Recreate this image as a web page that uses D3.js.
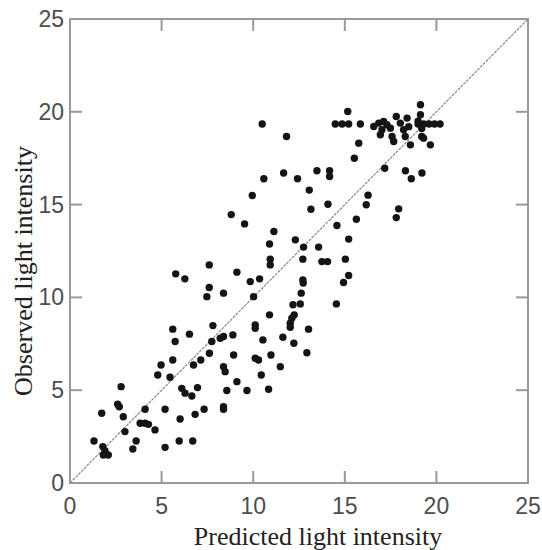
<!DOCTYPE html>
<html lang="en">
<head>
  <meta charset="UTF-8">
  <title>Observed vs predicted light intensity</title>
  <script src="https://d3js.org/d3.v7.min.js"></script>
  <style>
    body {
      margin: 0;
      background: #fff;
    }
    svg {
      display: block;
    }
    .tick-label {
      font-family: "Liberation Sans", Arial, sans-serif;
      font-size: 23px;
      fill: #4d4d4d;
    }
    .axis-title {
      font-family: "Liberation Serif", "DejaVu Serif", serif;
      font-size: 26px;
      fill: #222;
    }
  </style>
</head>
<body>
  <svg id="chart" width="542" height="550"></svg>

  <script>
    // Predicted (x) and observed (y) light intensity
    const predicted = [
      1.31, 1.79, 1.91, 1.82, 2.09, 1.73, 2.6, 2.69, 2.79, 2.91, 3.0, 3.43, 3.61, 3.83, 4.10, 4.28, 4.10, 4.64, 4.79, 4.97,
      5.19, 5.19, 5.46, 5.61, 5.61, 5.74, 5.77, 5.96, 6.01, 6.10, 6.28, 6.27, 6.52, 6.65, 6.70, 6.74, 6.83, 6.96, 7.14, 7.32,
      7.47, 7.60, 7.60, 7.61, 7.74, 7.80,
      8.20, 8.38, 8.38, 8.38, 8.47, 8.38, 8.38, 8.56, 8.80, 8.89, 8.93, 9.11, 9.11, 9.53, 9.66, 9.84, 9.95, 10.02, 10.11, 10.11,
      10.11, 10.29, 10.35, 10.44, 10.49, 10.53, 10.58, 10.84, 10.89, 10.93, 10.93, 10.89, 10.97,
      11.13, 11.48, 11.62, 11.66, 11.82, 12.02, 12.02, 12.11, 12.17, 12.24, 12.22, 12.30, 12.42, 12.57, 12.62, 12.71, 12.73,
      12.71, 12.75, 12.93, 13.02,
      13.06, 13.15, 13.48, 13.57, 13.75, 14.06, 14.08, 14.17, 14.17, 14.48, 14.54, 14.57, 14.85, 14.93, 15.03, 15.16, 15.21,
      15.21, 15.21, 15.52, 15.63, 15.76, 15.85,
      16.17, 16.27, 16.58, 16.85, 17.12, 17.30, 17.03, 16.94, 17.49, 17.58, 17.18, 17.67, 17.81, 17.81, 17.94, 18.03,
      18.21, 18.30, 18.31, 18.40, 18.49, 18.58, 18.63, 19.13, 19.13, 19.21, 19.20, 19.30, 19.67, 19.00, 19.30, 19.60, 19.90,
      20.20, 19.20, 19.00
    ];
    const observed = [
      2.26, 1.96, 1.74, 1.51, 1.51, 3.76, 4.24, 4.11, 5.19, 3.57, 2.77, 1.83, 2.26, 3.22, 3.22, 3.16, 3.97, 2.86, 5.82, 6.36,
      3.97, 1.92, 5.70, 6.63, 8.29, 7.62, 11.27, 2.26, 3.45, 5.10, 4.84, 11.0, 8.02, 4.69, 2.26, 6.36, 3.70, 5.14, 6.63, 3.97,
      10.04, 10.53, 11.75, 6.99, 7.62, 8.48,
      7.80, 7.89, 10.23, 6.27, 6.0, 4.11, 3.97, 4.98, 14.46, 7.98, 6.90, 11.36, 5.46, 13.96, 4.98, 10.85, 15.49, 10.04, 8.52, 8.34,
      6.72, 6.63, 11.0, 5.82, 19.34, 7.71, 16.39, 5.05, 12.88, 12.06, 11.75, 9.06, 6.90,
      13.55, 6.27, 7.85, 16.70, 18.67, 8.39, 8.61, 8.88, 9.60, 9.06, 7.53, 13.10, 16.39, 9.65, 10.23, 10.94, 10.77,
      12.06, 12.71, 7.02, 8.29,
      15.78, 14.75, 16.82, 12.71, 11.93, 11.93, 15.02, 16.82, 16.51, 19.34, 9.65, 13.87, 19.34, 10.80, 12.06, 20.02, 19.34,
      13.14, 11.18, 17.5, 14.21, 18.31, 19.34,
      14.99, 15.51, 19.21, 19.39, 19.48, 19.30, 19.03, 18.76, 19.12, 18.67, 16.96, 18.40, 19.75, 14.30, 14.77, 19.39,
      19.03, 18.67, 16.82, 19.66, 19.20, 18.22, 16.39, 20.38, 19.84, 16.70, 18.67, 18.58, 18.22, 19.34, 19.34, 19.34, 19.34,
      19.34, 19.10, 19.50
    ];

    const tickValues = [0, 5, 10, 15, 20, 25];
    const innerTicks = [5, 10, 15, 20];

    const svg = d3.select("#chart");

    const x = d3.scaleLinear().domain([0, 25]).range([70, 528]);
    const y = d3.scaleLinear().domain([0, 25]).range([483, 19]);

    const points = predicted.map((p, i) => ({ p: p, o: observed[i] }));

    // 1:1 line
    svg.append("line")
      .attr("x1", x(0))
      .attr("y1", y(0))
      .attr("x2", x(25))
      .attr("y2", y(25))
      .attr("stroke", "#8a8a8a")
      .attr("stroke-width", 1.2)
      .attr("stroke-dasharray", "3,1");

    // Points
    svg.append("g")
      .selectAll("circle")
      .data(points)
      .enter().append("circle")
      .attr("cx", d => x(d.p))
      .attr("cy", d => y(d.o))
      .attr("r", 3.7)
      .attr("fill", "#141414");

    // Frame
    svg.append("rect")
      .attr("x", x(0))
      .attr("y", y(25))
      .attr("width", x(25) - x(0))
      .attr("height", y(0) - y(25))
      .attr("fill", "none")
      .attr("stroke", "#999")
      .attr("stroke-width", 2);

    // Inward ticks on all four sides
    const tickLen = 12;
    const tickG = svg.append("g").attr("stroke", "#999").attr("stroke-width", 2);
    innerTicks.forEach(v => {
      tickG.append("line").attr("x1", x(v)).attr("x2", x(v)).attr("y1", y(0)).attr("y2", y(0) - tickLen);
      tickG.append("line").attr("x1", x(v)).attr("x2", x(v)).attr("y1", y(25)).attr("y2", y(25) + tickLen);
      tickG.append("line").attr("y1", y(v)).attr("y2", y(v)).attr("x1", x(0)).attr("x2", x(0) + tickLen);
      tickG.append("line").attr("y1", y(v)).attr("y2", y(v)).attr("x1", x(25)).attr("x2", x(25) - tickLen);
    });

    // Tick labels
    svg.append("g")
      .selectAll("text")
      .data(tickValues)
      .enter().append("text")
      .attr("class", "tick-label")
      .attr("x", d => x(d))
      .attr("y", 514)
      .attr("text-anchor", "middle")
      .text(d => d);

    svg.append("g")
      .selectAll("text")
      .data(tickValues)
      .enter().append("text")
      .attr("class", "tick-label")
      .attr("x", 64)
      .attr("y", d => y(d) + 8)
      .attr("text-anchor", "end")
      .text(d => d);

    // Axis titles
    svg.append("text")
      .attr("class", "axis-title")
      .attr("x", 318)
      .attr("y", 545)
      .attr("text-anchor", "middle")
      .text("Predicted light intensity");

    svg.append("text")
      .attr("class", "axis-title")
      .attr("transform", "translate(32,271) rotate(-90)")
      .attr("text-anchor", "middle")
      .text("Observed light intensity");
  </script>
</body>
</html>
